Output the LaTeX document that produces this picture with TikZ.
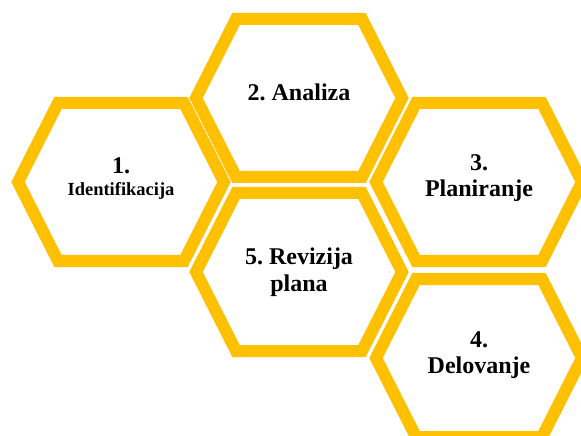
\documentclass[tikz,border=0pt]{standalone}
\usepackage{fontspec}
\setmainfont{Liberation Serif}
\definecolor{hexgold}{HTML}{FFC000}
\newcommand{\bigtxt}{\fontsize{24bp}{26.5bp}\selectfont}
\newcommand{\smalltxt}{\fontsize{18.5bp}{22bp}\selectfont}
\tikzset{
  hexline/.style={draw=hexgold, line width=12bp, line join=miter, fill=white},
  lbl/.style={align=center, font=\bfseries\bigtxt\frenchspacing, inner sep=0pt},
}
\newcommand{\hexshape}{(-103,0) -- (-63,-79) -- (63,-79) -- (103,0) -- (63,79) -- (-63,79) -- cycle}
\begin{document}
\begin{tikzpicture}[x=1bp,y=-1bp]
\useasboundingbox (0,0) rectangle (581,436);
\clip (0,0) rectangle (581,436);
\fill[white] (0,0) rectangle (581,436);
\coordinate (c1) at (121,182);
\coordinate (c2) at (299,98);
\coordinate (c3) at (479,182);
\coordinate (c4) at (479,358);
\coordinate (c5) at (299,272);
\foreach \c in {c1,c2,c3,c4,c5}{
  \draw[hexline, shift={(\c)}] \hexshape;
}
\node[lbl, font=\bfseries\smalltxt] (t1) at (121,179) {{\bigtxt 1.}\\Identifikacija};
\node[lbl] (t2) at (299,92) {2. Analiza};
\node[lbl] (t3) at (479,178) {3.\\Planiranje};
\node[lbl] (t5) at (299,272) {5. Revizija\\plana};
\node[lbl] (t4) at (479,355) {4.\\Delovanje};
\end{tikzpicture}
\end{document}
